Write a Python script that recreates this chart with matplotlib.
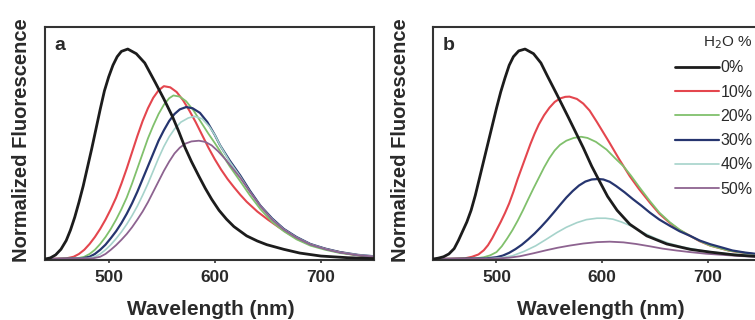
"""
Emission spectra vs water fraction (panels a and b).
"""

import matplotlib
matplotlib.use("Agg")
import matplotlib.pyplot as plt
import numpy as np

plt.rcParams.update({
    "font.family": ["Liberation Sans", "DejaVu Sans"],
    "axes.linewidth": 1.5,
    "axes.edgecolor": "#333333",
})

# water content (legend labels)
water = ["0%", "10%", "20%", "30%", "40%", "50%"]
colors = ["#1c1c1c", "#e4464e", "#80c06c", "#26356f", "#a6d3cb", "#8d6390"]
widths = [2.0, 1.5, 1.3, 1.6, 1.2, 1.3]

# panel a: (wavelength nm, normalized fluorescence)
a_0 = [(440, 0), (445, 0.005), (450, 0.018), (455, 0.042), (460, 0.08), (464, 0.125),
       (468, 0.18), (472, 0.245), (476, 0.315), (480, 0.395), (484, 0.475), (488, 0.56),
       (492, 0.645), (496, 0.725), (500, 0.785), (504, 0.835), (508, 0.872), (512, 0.895),
       (518, 0.905), (526, 0.885), (534, 0.845), (544, 0.76), (552, 0.69), (560, 0.615),
       (566, 0.55), (572, 0.48), (578, 0.42), (585, 0.357), (591, 0.305), (597, 0.258),
       (604, 0.21), (611, 0.172), (618, 0.14), (630, 0.10), (640, 0.078), (649, 0.062),
       (665, 0.042), (680, 0.026), (700, 0.013), (725, 0.006), (750, 0.002)]
a_10 = [(440, 0), (460, 0.003), (467, 0.01), (472, 0.022), (477, 0.04), (482, 0.065),
        (487, 0.095), (492, 0.13), (497, 0.17), (502, 0.215), (507, 0.265), (512, 0.325),
        (517, 0.39), (522, 0.46), (527, 0.53), (532, 0.595), (537, 0.65), (542, 0.695),
        (547, 0.727), (552, 0.745), (558, 0.74), (564, 0.72), (570, 0.685), (576, 0.64),
        (582, 0.59), (588, 0.535), (594, 0.48), (600, 0.43), (606, 0.385), (612, 0.345),
        (618, 0.31), (624, 0.277), (630, 0.247), (640, 0.205), (650, 0.17), (660, 0.138),
        (670, 0.108), (680, 0.082), (695, 0.055), (711, 0.036), (728, 0.021), (743, 0.012),
        (750, 0.009)]
a_20 = [(440, 0), (470, 0.003), (477, 0.01), (482, 0.022), (487, 0.04), (492, 0.065),
        (497, 0.095), (502, 0.13), (507, 0.17), (512, 0.215), (517, 0.265), (522, 0.325),
        (527, 0.39), (532, 0.455), (537, 0.52), (542, 0.575), (547, 0.625), (552, 0.665),
        (557, 0.693), (561, 0.705), (567, 0.70), (573, 0.68), (580, 0.64), (587, 0.59),
        (594, 0.54), (600, 0.50), (605, 0.465), (614, 0.40), (624, 0.335), (633, 0.275),
        (643, 0.215), (654, 0.16), (665, 0.12), (677, 0.085), (690, 0.058), (704, 0.04),
        (718, 0.026), (735, 0.016), (750, 0.01)]
a_30 = [(440, 0), (475, 0.003), (482, 0.01), (487, 0.022), (492, 0.04), (497, 0.062),
        (502, 0.09), (507, 0.12), (512, 0.155), (517, 0.195), (522, 0.24), (527, 0.29),
        (532, 0.345), (537, 0.40), (542, 0.455), (547, 0.51), (552, 0.555), (557, 0.595),
        (562, 0.625), (567, 0.645), (573, 0.655), (579, 0.65), (586, 0.63), (593, 0.59),
        (600, 0.535), (605, 0.49), (614, 0.425), (624, 0.36), (633, 0.295), (643, 0.23),
        (654, 0.175), (665, 0.13), (677, 0.095), (690, 0.065), (704, 0.045), (718, 0.03),
        (735, 0.018), (750, 0.012)]
a_40 = [(440, 0), (480, 0.003), (487, 0.01), (492, 0.022), (497, 0.04), (502, 0.062),
        (507, 0.088), (512, 0.117), (517, 0.15), (522, 0.187), (527, 0.228), (532, 0.275),
        (537, 0.325), (542, 0.38), (547, 0.435), (552, 0.485), (557, 0.527), (562, 0.56),
        (568, 0.59), (575, 0.608), (581, 0.615), (588, 0.605), (595, 0.57), (600, 0.535),
        (605, 0.49), (614, 0.42), (624, 0.355), (633, 0.29), (643, 0.228), (654, 0.172),
        (665, 0.128), (677, 0.093), (690, 0.064), (704, 0.044), (718, 0.029), (735, 0.018),
        (750, 0.012)]
a_50 = [(440, 0), (485, 0.003), (492, 0.01), (497, 0.022), (502, 0.04), (507, 0.06),
        (512, 0.083), (517, 0.108), (522, 0.137), (527, 0.17), (532, 0.205), (537, 0.245),
        (542, 0.29), (547, 0.335), (552, 0.38), (557, 0.42), (562, 0.455), (567, 0.48),
        (572, 0.497), (578, 0.507), (585, 0.51), (591, 0.505), (597, 0.49), (603, 0.465),
        (610, 0.43), (617, 0.39), (624, 0.35), (633, 0.29), (643, 0.228), (654, 0.17),
        (665, 0.127), (677, 0.092), (690, 0.063), (704, 0.043), (718, 0.028), (735, 0.017),
        (750, 0.011)]

# panel b
b_0 = [(440, 0), (445, 0.004), (450, 0.01), (455, 0.022), (460, 0.045), (464, 0.08),
       (468, 0.12), (472, 0.16), (476, 0.21), (480, 0.275), (484, 0.35), (488, 0.425),
       (492, 0.50), (496, 0.575), (500, 0.65), (504, 0.72), (508, 0.78), (512, 0.835),
       (516, 0.872), (521, 0.897), (527, 0.905), (535, 0.885), (542, 0.845), (548, 0.79),
       (557, 0.71), (568, 0.61), (575, 0.545), (582, 0.48), (590, 0.40), (598, 0.33),
       (605, 0.27), (614, 0.21), (626, 0.15), (642, 0.10), (661, 0.065), (683, 0.042),
       (702, 0.03), (725, 0.018), (750, 0.01)]
b_10 = [(440, 0), (470, 0.003), (477, 0.01), (483, 0.02), (488, 0.038), (492, 0.06),
        (496, 0.09), (500, 0.125), (504, 0.16), (508, 0.198), (512, 0.24), (516, 0.29),
        (520, 0.345), (524, 0.395), (528, 0.445), (532, 0.495), (536, 0.54), (540, 0.58),
        (545, 0.62), (550, 0.652), (555, 0.677), (560, 0.692), (565, 0.699), (569, 0.70),
        (576, 0.69), (582, 0.67), (588, 0.64), (595, 0.59), (601, 0.545), (607, 0.50),
        (616, 0.43), (626, 0.357), (635, 0.30), (645, 0.243), (654, 0.195), (664, 0.155),
        (673, 0.125), (683, 0.10), (692, 0.077), (702, 0.058), (720, 0.036), (735, 0.026),
        (750, 0.018)]
b_20 = [(440, 0), (480, 0.003), (488, 0.008), (494, 0.016), (500, 0.03), (505, 0.055),
        (510, 0.088), (515, 0.124), (520, 0.165), (525, 0.21), (530, 0.258), (535, 0.305),
        (540, 0.35), (545, 0.395), (550, 0.435), (555, 0.468), (560, 0.492), (566, 0.51),
        (573, 0.522), (580, 0.527), (586, 0.522), (594, 0.505), (604, 0.472), (612, 0.435),
        (620, 0.40), (627, 0.36), (635, 0.31), (645, 0.25), (654, 0.20), (664, 0.158),
        (673, 0.127), (683, 0.10), (692, 0.078), (702, 0.058), (720, 0.036), (735, 0.026),
        (750, 0.018)]
b_30 = [(440, 0), (490, 0.003), (500, 0.008), (506, 0.015), (512, 0.027), (518, 0.043),
        (524, 0.062), (530, 0.085), (536, 0.11), (542, 0.138), (548, 0.168), (554, 0.20),
        (560, 0.233), (566, 0.265), (572, 0.293), (578, 0.317), (584, 0.334), (590, 0.343),
        (596, 0.345), (601, 0.343), (607, 0.333), (613, 0.315), (621, 0.288), (629, 0.258),
        (637, 0.23), (645, 0.20), (654, 0.17), (664, 0.143), (673, 0.12), (683, 0.10),
        (692, 0.08), (702, 0.064), (713, 0.05), (723, 0.037), (735, 0.028), (750, 0.02)]
b_40 = [(440, 0), (495, 0.002), (505, 0.006), (515, 0.014), (526, 0.033), (537, 0.057),
        (547, 0.085), (557, 0.114), (566, 0.137), (576, 0.157), (585, 0.17), (595, 0.176),
        (603, 0.176), (610, 0.172), (618, 0.16), (626, 0.145), (638, 0.115), (651, 0.088),
        (663, 0.068), (676, 0.052), (690, 0.04), (702, 0.031), (720, 0.022), (750, 0.013)]
b_50 = [(440, 0), (500, 0.002), (512, 0.006), (522, 0.012), (535, 0.025), (547, 0.038),
        (558, 0.049), (569, 0.058), (582, 0.067), (595, 0.073), (607, 0.075), (620, 0.072),
        (632, 0.065), (645, 0.055), (657, 0.045), (670, 0.037), (683, 0.03), (698, 0.023),
        (714, 0.018), (730, 0.013), (750, 0.009)]

panel_a = [a_0, a_10, a_20, a_30, a_40, a_50]
panel_b = [b_0, b_10, b_20, b_30, b_40, b_50]
xticks = [500, 600, 700]


def draw_panel(ax, curves, letter):
    # draw the 0% curve last so it sits on top like in the original
    order = list(range(1, len(curves))) + [0]
    for i in order:
        wl, fl = np.array(curves[i], dtype=float).T
        ax.plot(wl, fl, color=colors[i], lw=widths[i], label=water[i],
                zorder=3 if i == 0 else 2, solid_capstyle="round",
                solid_joinstyle="round")
    ax.set_xlim(440, 750)
    ax.set_ylim(-0.004, 1.0)
    ax.set_yticks([])
    ax.set_xticks(xticks)
    ax.tick_params(axis="x", direction="out", length=2.5, width=1.2, pad=5,
                   labelsize=12.5, colors="#333333", labelcolor="#2a2a2a")
    for lbl in ax.get_xticklabels():
        lbl.set_fontweight("bold")
    ax.text(0.03, 0.955, letter, transform=ax.transAxes, fontsize=14,
            fontweight="bold", va="top", ha="left", color="#2a2a2a")


fig = plt.figure(figsize=(7.55, 3.2), dpi=100)
ax_a = fig.add_axes([45 / 755, 60 / 320, 329 / 755, 233 / 320])
ax_b = fig.add_axes([433 / 755, 60 / 320, 328 / 755, 233 / 320])

draw_panel(ax_a, panel_a, "a")
draw_panel(ax_b, panel_b, "b")

# legend only on panel b, in data order 0..50%
handles, labels = ax_b.get_legend_handles_labels()
idx = [labels.index(w) for w in water]
leg = ax_b.legend([handles[i] for i in idx], [labels[i] for i in idx],
                  title="H$_2$O %", loc="upper left", bbox_to_anchor=(0.738, 0.968),
                  frameon=False, fontsize=11.5, title_fontsize=11,
                  handlelength=2.75, handletextpad=0.1, labelspacing=0.58,
                  borderpad=0.0, borderaxespad=0.0, alignment="right")
for t in leg.get_texts():
    t.set_color("#2a2a2a")
leg.get_title().set_color("#2a2a2a")

for x_lab, x_ylab in [(211, 22), (601, 401)]:
    fig.text(x_lab / 755, 5 / 320, "Wavelength (nm)", fontsize=15,
             fontweight="bold", ha="center", va="baseline", color="#2a2a2a")
    fig.text(x_ylab / 755, 180 / 320, "Normalized Fluorescence", fontsize=14.5,
             fontweight="bold", rotation=90, ha="center", va="center", color="#2a2a2a")

fig.savefig("out.png", dpi=100)
plt.close()
